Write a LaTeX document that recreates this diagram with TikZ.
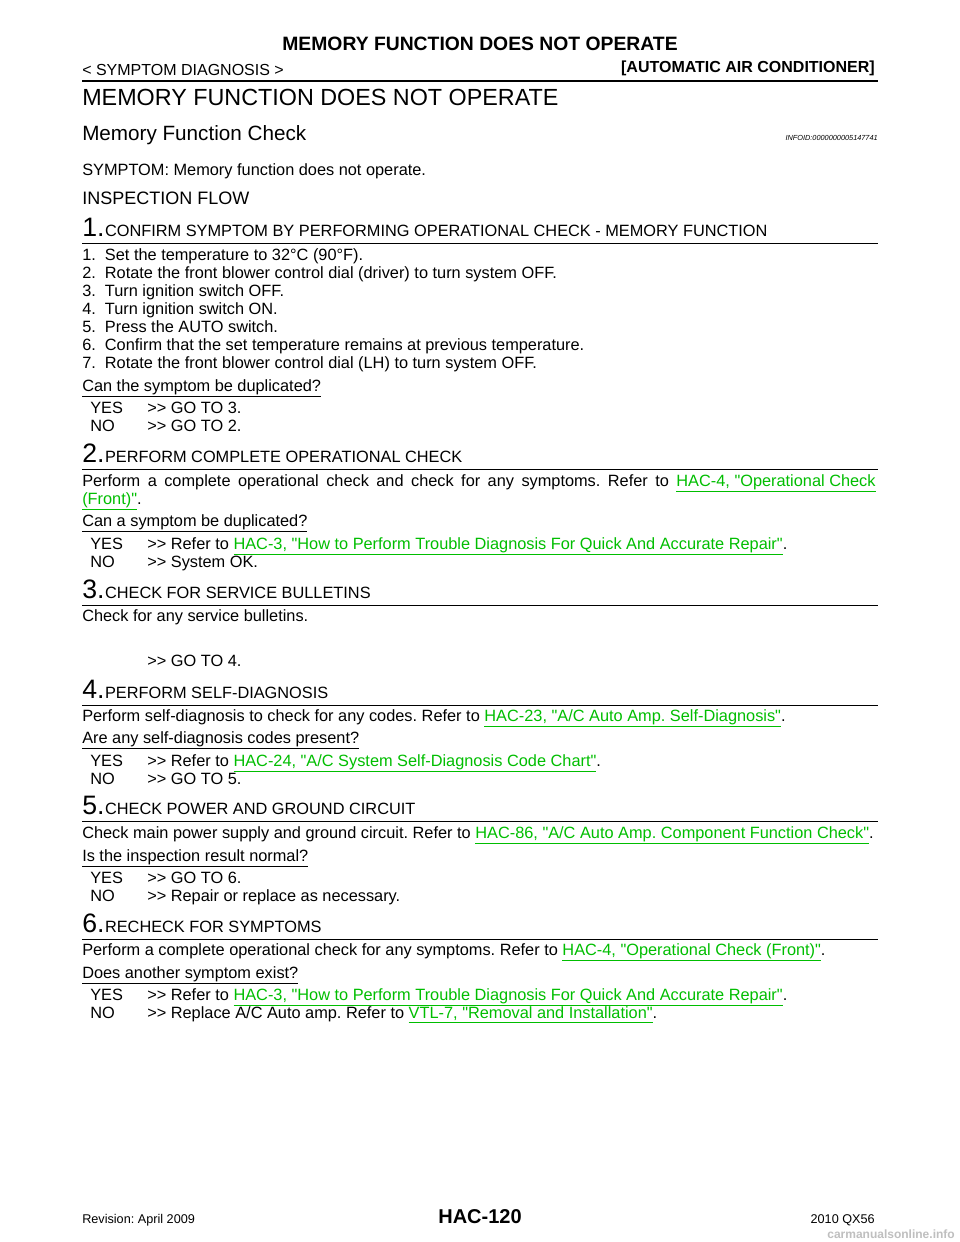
\documentclass[tikz,border=0pt]{standalone}
\usepackage{fontspec}
\defaultfontfeatures[\rmfamily]{}
\setmainfont{Liberation Sans}
\definecolor{lnk}{RGB}{0,190,0}
\newcommand{\lk}[1]{\textcolor{lnk}{\underline{#1}}}
\newcommand{\gto}{>>}
\frenchspacing
\begin{document}
\begin{tikzpicture}[x=0.75pt,y=-0.75pt,
  txt/.style={anchor=base west,inner sep=0pt,font=\fontsize{12.25}{13.5}\selectfont},
  num/.style={anchor=base west,inner sep=0pt,font=\fontsize{20}{20}\selectfont},
  rul/.style={line width=0.6pt}]
\useasboundingbox (0,0) rectangle (960,1242);
\fill[white] (0,0) rectangle (960,1242);
% header
\node[anchor=base,inner sep=0pt,font=\fontsize{14.5}{16}\bfseries\selectfont] (h1) at (480,50) {MEMORY FUNCTION DOES NOT OPERATE};
\node[txt,font=\fontsize{12}{14}\selectfont] (h2) at (82,75) {< SYMPTOM DIAGNOSIS >};
\node[anchor=base east,inner sep=0pt,font=\fontsize{12}{14}\bfseries\selectfont] (h3) at (875,72) {[AUTOMATIC AIR CONDITIONER]};
\draw[line width=1.8pt] (82,81) -- (878,81);
\node[txt,font=\fontsize{17.5}{19}\selectfont] (t1) at (82,105) {MEMORY FUNCTION DOES NOT OPERATE};
\node[txt,font=\fontsize{15.5}{17}\selectfont] (t2) at (82,140) {Memory Function Check};
\node[anchor=base east,inner sep=0pt,font=\fontsize{5.5}{6}\itshape\selectfont] (info) at (878,140) {INFOID:0000000005147741};
\node[txt] (s) at (82,175) {SYMPTOM: Memory function does not operate.};
\node[txt,font=\fontsize{13.5}{15}\selectfont] (if) at (82,204) {INSPECTION FLOW};
% step 1
\node[num] (n1) at (82,236) {1.};
\node[txt] (st1) at (n1.base east) {CONFIRM SYMPTOM BY PERFORMING OPERATIONAL CHECK - MEMORY FUNCTION};
\draw[rul] (82,243) -- (878,243);
\node[txt] (a1) at (82,260) {1.\ \ Set the temperature to 32°C (90°F).};
\node[txt] (a2) at (82,278) {2.\ \ Rotate the front blower control dial (driver) to turn system OFF.};
\node[txt] (a3) at (82,296) {3.\ \ Turn ignition switch OFF.};
\node[txt] (a4) at (82,314) {4.\ \ Turn ignition switch ON.};
\node[txt] (a5) at (82,332) {5.\ \ Press the AUTO switch.};
\node[txt] (a6) at (82,350) {6.\ \ Confirm that the set temperature remains at previous temperature.};
\node[txt] (a7) at (82,368) {7.\ \ Rotate the front blower control dial (LH) to turn system OFF.};
\node[txt] (q1) at (82,391) {\underline{Can the symptom be duplicated?}};
\node[txt] (y1) at (90,413) {YES};\node[txt] (y1b) at (147,413) {\gto\ GO TO 3.};
\node[txt] (o1) at (90,431) {NO};\node[txt] (o1b) at (147,431) {\gto\ GO TO 2.};
% step 2
\node[num] (n2) at (82,462) {2.};
\node[txt] (st2) at (n2.base east) {PERFORM COMPLETE OPERATIONAL CHECK};
\draw[rul] (82,469) -- (878,469);
\node[anchor=base west,inner sep=0pt,text width=595pt,align=justify,font=\fontsize{12.25}{13.5}\selectfont] (b1) at (82,486) {Perform a complete operational check and check for any symptoms. Refer to \lk{HAC-4, "Operational Check}\linebreak \lk{(Front)"}.};
\node[txt] (q2) at (82,526) {\underline{Can a symptom be duplicated?}};
\node[txt] (y2) at (90,549) {YES};\node[txt] (y2b) at (147,549) {\gto\ Refer to \lk{HAC-3, "How to Perform Trouble Diagnosis For Quick And Accurate Repair"}.};
\node[txt] (o2) at (90,567) {NO};\node[txt] (o2b) at (147,567) {\gto\ System OK.};
% step 3
\node[num] (n3) at (82,598) {3.};
\node[txt] (st3) at (n3.base east) {CHECK FOR SERVICE BULLETINS};
\draw[rul] (82,605) -- (878,605);
\node[txt] (c1) at (82,621) {Check for any service bulletins.};
\node[txt] (c2) at (147,666) {\gto\ GO TO 4.};
% step 4
\node[num] (n4) at (82,698) {4.};
\node[txt] (st4) at (n4.base east) {PERFORM SELF-DIAGNOSIS};
\draw[rul] (82,705) -- (878,705);
\node[txt] (d1) at (82,721) {Perform self-diagnosis to check for any codes. Refer to \lk{HAC-23, "A/C Auto Amp. Self-Diagnosis"}.};
\node[txt] (q4) at (82,743) {\underline{Are any self-diagnosis codes present?}};
\node[txt] (y4) at (90,766) {YES};\node[txt] (y4b) at (147,766) {\gto\ Refer to \lk{HAC-24, "A/C System Self-Diagnosis Code Chart"}.};
\node[txt] (o4) at (90,784) {NO};\node[txt] (o4b) at (147,784) {\gto\ GO TO 5.};
% step 5
\node[num] (n5) at (82,814) {5.};
\node[txt] (st5) at (n5.base east) {CHECK POWER AND GROUND CIRCUIT};
\draw[rul] (82,821) -- (878,821);
\node[txt] (e1) at (82,838) {Check main power supply and ground circuit. Refer to \lk{HAC-86, "A/C Auto Amp. Component Function Check"}.};
\node[txt] (q5) at (82,861) {\underline{Is the inspection result normal?}};
\node[txt] (y5) at (90,883) {YES};\node[txt] (y5b) at (147,883) {\gto\ GO TO 6.};
\node[txt] (o5) at (90,901) {NO};\node[txt] (o5b) at (147,901) {\gto\ Repair or replace as necessary.};
% step 6
\node[num] (n6) at (82,932) {6.};
\node[txt] (st6) at (n6.base east) {RECHECK FOR SYMPTOMS};
\draw[rul] (82,939) -- (878,939);
\node[txt] (f1) at (82,955) {Perform a complete operational check for any symptoms. Refer to \lk{HAC-4, "Operational Check (Front)"}.};
\node[txt] (q6) at (82,978) {\underline{Does another symptom exist?}};
\node[txt] (y6) at (90,1000) {YES};\node[txt] (y6b) at (147,1000) {\gto\ Refer to \lk{HAC-3, "How to Perform Trouble Diagnosis For Quick And Accurate Repair"}.};
\node[txt] (o6) at (90,1018) {NO};\node[txt] (o6b) at (147,1018) {\gto\ Replace A/C Auto amp. Refer to \lk{VTL-7, "Removal and Installation"}.};
% footer
\node[txt,font=\fontsize{9.5}{11}\selectfont] (r) at (82,1223) {Revision: April 2009};
\node[anchor=base,inner sep=0pt,font=\fontsize{15}{17}\bfseries\selectfont] (pg) at (480,1223) {HAC-120};
\node[anchor=base east,inner sep=0pt,font=\fontsize{9.5}{11}\selectfont] (yr) at (875,1223) {2010 QX56};
\node[anchor=base east,inner sep=0pt,font=\fontsize{9}{10}\bfseries\selectfont,text=black!25] (wm) at (955,1238) {carmanualsonline.info};
\end{tikzpicture}
\end{document}
